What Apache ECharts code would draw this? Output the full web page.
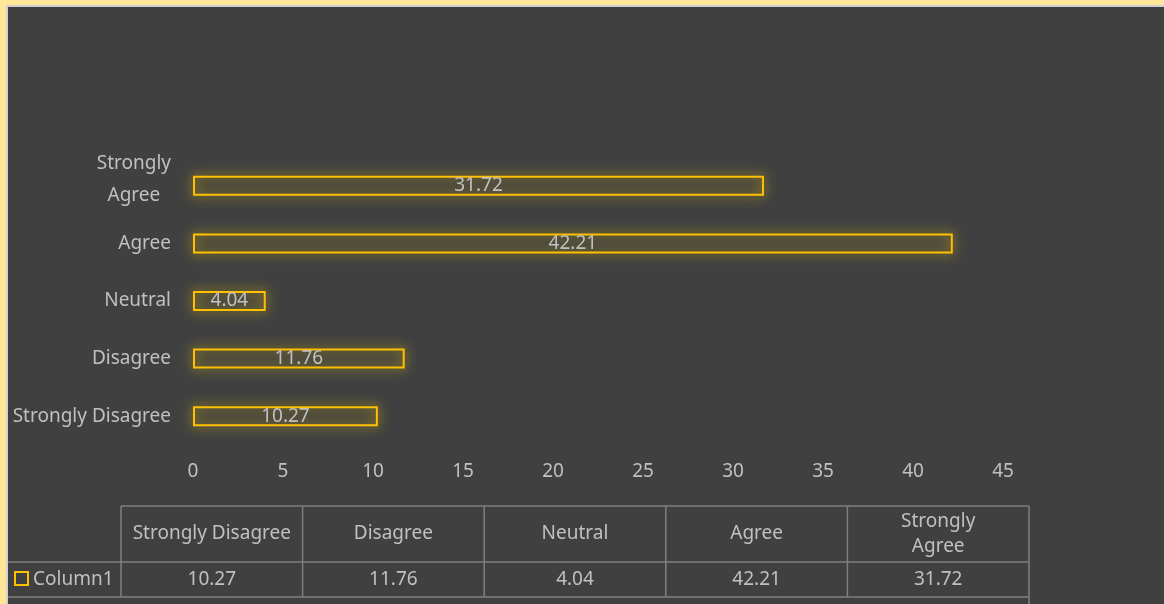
<!DOCTYPE html>
<html>
<head>
<meta charset="utf-8">
<script src="https://cdn.jsdelivr.net/npm/echarts@6/dist/echarts.min.js"></script>
<style>
html,body{margin:0;padding:0;background:#FFE699;width:1164px;height:604px;overflow:hidden;}
#bg{position:absolute;left:6px;top:5px;width:1160px;height:601px;background:#404040;border-left:2px solid #d0d0d0;border-top:2px solid #d0d0d0;}
#chart{position:absolute;left:0;top:0;width:1164px;height:604px;}
</style>
</head>
<body>
<div id="bg"></div>
<div id="chart"></div>
<script>
const categories = ['Strongly Disagree', 'Disagree', 'Neutral', 'Agree', 'Strongly Agree'];
const values = [10.27, 11.76, 4.04, 42.21, 31.72];
const seriesName = 'Column1';
const xTicks = {min: 0, max: 45, interval: 5};

const textColor = '#c0c0c0';
const font = 'Noto Sans';
const fs = 19;
const lineColor = '#7f7f7f';

const chart = echarts.init(document.getElementById('chart'));

// table layout
const tLeft = 8, tKey = 121, tRight = 1029;
const yTop = 506, yMid = 562, yBot = 597;
const colW = (tRight - tKey) / categories.length;
const graphics = [];
function hline(x1, x2, y){ graphics.push({type:'line', shape:{x1:x1,y1:y,x2:x2,y2:y}, style:{stroke:lineColor, lineWidth:1.5}, silent:true}); }
function vline(x, y1, y2){ graphics.push({type:'line', shape:{x1:x,y1:y1,x2:x,y2:y2}, style:{stroke:lineColor, lineWidth:1.5}, silent:true}); }
hline(tKey, tRight, yTop);
hline(tLeft, tRight, yMid);
hline(tLeft, tRight, yBot);
for (let i = 0; i <= categories.length; i++) vline(tKey + i * colW, yTop, i === categories.length ? 604 : yBot);
categories.forEach((c, i) => {
  const cx = tKey + colW * (i + 0.5);
  const txt = c === 'Strongly Agree' ? 'Strongly\nAgree' : c;
  graphics.push({type:'text', x:cx, y:(yTop + yMid) / 2, style:{text:txt, fill:textColor, font:fs + 'px "' + font + '"', align:'center', verticalAlign:'middle', lineHeight:25}, silent:true});
  graphics.push({type:'text', x:cx, y:(yMid + yBot) / 2, style:{text:String(values[i]), fill:textColor, font:fs + 'px "' + font + '"', align:'center', verticalAlign:'middle'}, silent:true});
});
// legend key
graphics.push({type:'rect', shape:{x:15, y:572, width:13, height:13}, style:{fill:'none', stroke:'#FFC000', lineWidth:2}, silent:true});
graphics.push({type:'text', x:33, y:(yMid + yBot) / 2, style:{text:seriesName, fill:textColor, font:fs + 'px "' + font + '"', align:'left', verticalAlign:'middle'}, silent:true});

chart.setOption({
  backgroundColor: 'transparent',
  animation: false,
  grid: {left: 193, right: 161, top: 157, height: 288, containLabel: false},
  xAxis: {
    type: 'value', min: xTicks.min, max: xTicks.max, interval: xTicks.interval,
    axisLine: {show: false}, axisTick: {show: false}, splitLine: {show: false},
    axisLabel: {color: textColor, fontSize: fs, fontFamily: font, margin: 17}
  },
  yAxis: {
    type: 'category', data: categories,
    axisLine: {show: false}, axisTick: {show: false},
    axisLabel: {
      color: textColor, fontSize: fs, fontFamily: font, margin: 22,
      formatter: function(v){ return v === 'Strongly Agree' ? '{c|Strongly}\n{c|Agree}\n{e|}' : v; },
      rich: {
        c: {color: textColor, fontSize: fs, fontFamily: font, align: 'center', lineHeight: 32},
        e: {fontSize: 10, lineHeight: 12}
      }
    }
  },
  series: [{
    type: 'bar', name: seriesName, data: values, barWidth: 20,
    itemStyle: {color: 'rgba(0,0,0,0)', borderColor: '#FFC000', borderWidth: 2, shadowBlur: 12, shadowColor: 'rgba(255,215,0,1)'},
    label: {show: true, position: 'inside', color: textColor, fontSize: fs, fontFamily: font, formatter: p => p.value.toFixed(2)}
  }],
  graphic: graphics
});
</script>
</body>
</html>
